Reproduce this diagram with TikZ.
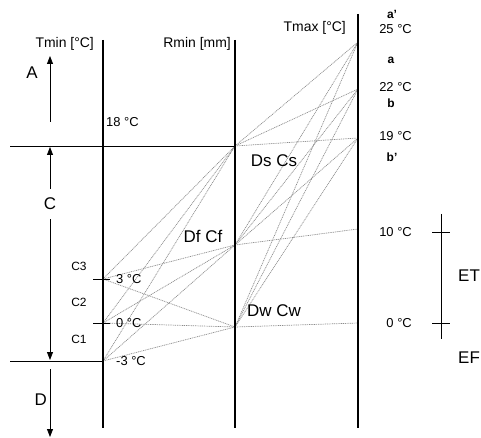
\documentclass[tikz,border=0pt]{standalone}
\usepackage{fontspec}
\setmainfont{Liberation Sans}
\usepackage{xcolor}
\usepackage{tikz}
\usetikzlibrary{arrows.meta,positioning}
\definecolor{ink}{HTML}{000000}
\definecolor{wire}{HTML}{8C8C8C}

\begin{document}
\begin{tikzpicture}[
  x=1bp,y=-1bp,
  axis/.style={draw=ink,line width=2.6bp},
  guide/.style={draw=ink,line width=0.8bp},
  link/.style={draw=wire,line width=0.7bp,dash pattern=on 1bp off 0.8bp},
  span/.style={guide,-{Triangle[length=8bp,width=6bp]}},
  lbl/.style={font=\fontsize{14}{16}\selectfont,inner sep=1bp},
  tmp/.style={font=\fontsize{13}{15}\selectfont,inner sep=1bp},
  big/.style={font=\fontsize{17}{19}\selectfont,inner sep=1bp},
  sub/.style={font=\fontsize{12}{14}\selectfont,inner sep=1bp},
  zone/.style={font=\fontsize{12}{14}\selectfont\bfseries,inner sep=1bp},
]
\useasboundingbox (0,0) rectangle (481,438);

% --- points on the three scales
\coordinate (t18) at (103,146);
\coordinate (tp3) at (103,279);
\coordinate (t0)  at (103,323);
\coordinate (tm3) at (103,361);
\coordinate (rs)  at (235,146);
\coordinate (rf)  at (235,245);
\coordinate (rw)  at (235,327);
\coordinate (x25) at (358,42);
\coordinate (x22) at (358,89);
\coordinate (x19) at (358,138);
\coordinate (x10) at (358,229);
\coordinate (x0)  at (358,323);

% --- dotted links
\foreach \r in {rs,rf,rw}{
  \foreach \t in {tp3,t0,tm3} \draw[link] (\t) -- (\r);
  \foreach \t in {x25,x22,x19} \draw[link] (\r) -- (\t);
}
\draw[link] (rf) -- (x10);
\draw[link] (rw) -- (x0);

% --- scales
\coordinate (tmintop) at (103,40);
\coordinate (tminbot) at (103,428);
\coordinate (rmintop) at (235,40);
\coordinate (rminbot) at (235,428);
\coordinate (tmaxtop) at (358,14);
\coordinate (tmaxbot) at (358,428);
\draw[axis] (tmintop) -- (tminbot);
\draw[axis] (rmintop) -- (rminbot);
\draw[axis] (tmaxtop) -- (tmaxbot);
\node[lbl,anchor=east] (tminlbl) at (95,44) {Tmin [°C]};
\node[lbl,anchor=east] (rminlbl) at (232,44) {Rmin [mm]};
\node[lbl,anchor=east] (tmaxlbl) at (347,28) {Tmax [°C]};

% --- limits and ticks
\coordinate (hsl) at (10,146);
\coordinate (hdl) at (10,361);
\draw[guide] (hsl) -- (rs);
\draw[guide] (hdl) -- (tm3);
\draw[guide] ([xshift=-10bp]tp3) -- ([xshift=7bp]tp3);
\draw[guide] ([xshift=-10bp]t0) -- ([xshift=7bp]t0);

\node[tmp,anchor=west] (l18) at (105,122) {18 °C};
\node[tmp,right=12bp of tp3] (lp3) {3 °C};
\node[tmp,right=12bp of t0] (l0) {0 °C};
\node[tmp,right=12bp of tm3] (lm3) {-3 °C};
\node[sub] (c3) at (79,266) {C3};
\node[sub] (c2) at (79,302) {C2};
\node[sub] (c1) at (79,339) {C1};

% --- climate groups A, C, D
\coordinate (abot) at (50,122);
\coordinate (atop) at (50,56);
\draw[span] (abot) -- (atop);
\node[big] (za) at (32,73) {A};
\coordinate (ctop) at (50,147);
\coordinate (cbot) at (50,360);
\node[big,fill=white,inner ysep=9bp] (zc) at (50,204) {C};
\draw[span] (zc) -- (ctop);
\draw[span] (zc) -- (cbot);
\coordinate (dtop) at (50,369);
\coordinate (dbot) at (50,437);
\draw[span] (dtop) -- (dbot);
\node[big,anchor=east] (zd) at (48,400) {D};

% --- Rmin types
\node[big] (ds) at (274,161) {Ds Cs};
\node[big] (df) at (203,236) {Df Cf};
\node[big] (dw) at (274,311) {Dw Cw};

% --- Tmax values and zones
\node[zone] (za2) at (392,14) {a'};
\node[tmp,anchor=east] (l25) at (413,29) {25 °C};
\node[zone] (za1) at (391,60) {a};
\node[tmp,anchor=east] (l22) at (413,87) {22 °C};
\node[zone] (zb1) at (391,103) {b};
\node[tmp,anchor=east] (l19) at (413,136) {19 °C};
\node[zone] (zb2) at (392,157) {b'};
\node[tmp,anchor=east] (l10) at (413,232) {10 °C};
\node[tmp,anchor=east] (lx0) at (413,323) {0 °C};

% --- polar bracket
\coordinate (ettop) at (441,214);
\coordinate (etbot) at (441,339);
\coordinate (et10) at (441,232);
\coordinate (et0) at (441,323);
\draw[guide] (ettop) -- (etbot);
\draw[guide] ([xshift=-9bp]et10) -- ([xshift=9bp]et10);
\draw[guide] ([xshift=-9bp]et0) -- ([xshift=9bp]et0);
\node[big,anchor=west] (zet) at (457,276) {ET};
\node[big,anchor=west] (zef) at (457,358) {EF};
\end{tikzpicture}
\end{document}
